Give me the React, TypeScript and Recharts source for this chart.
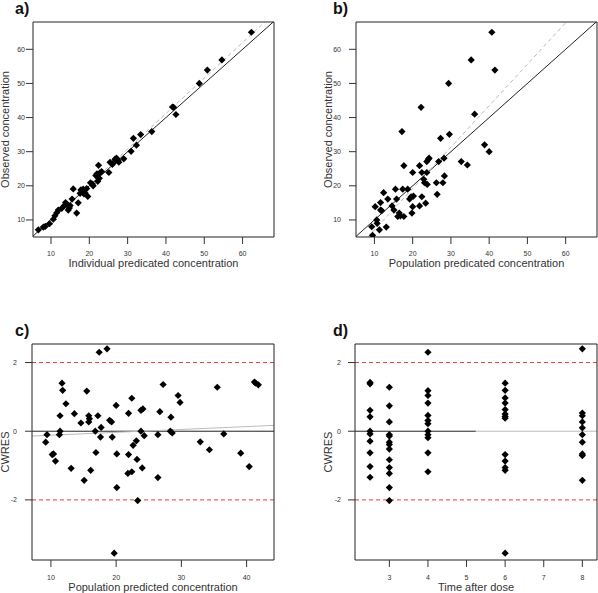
import React from 'react';
import { ScatterChart, Scatter, XAxis, YAxis, ReferenceLine } from 'recharts';

// Panel a: individual predicted vs observed
const aIpred = [6.7, 8.0, 8.5, 9.6, 10.6, 11.0, 11.5, 11.9, 12.8, 13.5, 13.8, 14.0, 14.5, 14.8, 15.0, 15.5, 15.8, 16.7, 17.1, 17.6, 17.8, 18.2, 18.4, 18.6, 18.9, 19.3, 19.6, 20.3, 20.8, 21.0, 21.7, 22.0, 22.2, 22.4, 22.6, 22.8, 23.2, 25.1, 25.4, 26.0, 26.2, 26.7, 27.1, 27.5, 27.7, 29.0, 30.9, 31.5, 32.3, 33.4, 36.3, 41.7, 42.0, 42.6, 48.7, 50.8, 54.6, 62.3];
const aObs = [7.1, 7.9, 8.1, 8.9, 10.2, 11.2, 12.1, 12.9, 13.4, 14.2, 15.1, 14.6, 12.9, 13.5, 14.2, 16.1, 19.1, 12.0, 15.0, 17.8, 18.8, 18.3, 19.0, 17.6, 17.9, 19.2, 16.9, 20.9, 20.5, 20.0, 23.0, 23.5, 21.3, 26.0, 22.2, 23.8, 24.2, 23.9, 26.9, 26.3, 26.6, 27.8, 28.1, 27.5, 26.9, 27.9, 30.1, 33.9, 31.9, 35.0, 35.9, 43.1, 43.0, 40.9, 50.0, 53.9, 56.9, 65.0];

// Panel b: population predicted vs observed
const bPred = [9.3, 9.5, 10.2, 10.6, 10.7, 11.3, 11.6, 11.6, 11.9, 12.4, 13.1, 13.5, 14.6, 15.1, 15.5, 15.8, 16.1, 16.5, 16.8, 17.2, 17.4, 17.7, 17.7, 18.7, 19.2, 19.6, 19.8, 20.0, 20.0, 20.2, 21.8, 21.8, 22.2, 22.4, 22.4, 22.9, 23.1, 23.4, 23.7, 23.7, 23.8, 24.1, 24.3, 26.2, 26.4, 26.8, 27.3, 27.9, 28.2, 28.3, 29.4, 29.6, 32.7, 34.3, 35.3, 36.2, 38.8, 40.0, 40.7, 41.5];
const bObs = [8.0, 5.5, 13.9, 10.0, 9.0, 7.1, 15.1, 12.9, 12.7, 18.0, 7.9, 16.1, 14.1, 12.9, 19.0, 16.1, 11.0, 12.0, 11.2, 35.9, 19.0, 25.9, 11.0, 19.0, 16.1, 16.8, 12.0, 13.9, 23.9, 17.0, 25.9, 14.1, 43.0, 16.8, 23.9, 21.9, 20.9, 14.9, 23.9, 27.1, 20.4, 27.8, 28.1, 20.9, 17.5, 27.1, 33.9, 20.9, 28.1, 22.9, 50.0, 35.1, 27.1, 26.1, 56.9, 41.0, 32.0, 30.0, 65.0, 53.9];

// Panel c: CWRES vs population predicted
const cPred = [9.4, 9.2, 10.2, 10.4, 10.7, 11.4, 11.3, 11.4, 11.7, 11.8, 12.3, 13.1, 13.6, 14.6, 15.1, 15.5, 15.8, 15.8, 15.9, 16.1, 16.8, 16.9, 17.2, 17.4, 17.6, 17.7, 18.6, 19.0, 19.3, 19.4, 19.7, 20.0, 20.1, 20.1, 21.9, 21.9, 21.8, 22.4, 22.4, 22.6, 23.1, 23.2, 23.3, 23.8, 23.8, 24.1, 24.0, 24.3, 26.4, 26.4, 26.7, 27.2, 28.3, 28.4, 28.6, 29.5, 29.8, 32.9, 34.3, 35.5, 36.5, 39.1, 40.4, 41.2, 41.4, 41.8];
const cCwres = [-0.10, -0.32, -0.68, -0.66, -0.87, 0.0, -0.10, 0.45, 1.40, 1.19, 0.80, -1.08, 0.51, 0.24, -1.43, 1.17, 0.45, 0.27, 0.36, -1.14, 0.0, -0.62, 0.45, 2.30, -0.17, 0.11, 2.40, 0.32, 0.27, -0.17, -3.55, 0.75, -0.66, -1.64, 0.52, -0.68, -1.23, -1.18, 0.96, -0.41, -0.28, -0.82, -2.02, 0.0, 0.61, 0.65, -1.07, -0.13, -0.10, -1.35, 0.57, 1.36, 0.0, 0.41, -0.05, 1.04, 0.84, -0.31, -0.54, 1.28, -0.08, -0.64, -1.03, 1.43, 1.40, 1.35];

// Panel d: CWRES vs time after dose
const dTime = [2.5, 2.5, 2.5, 2.5, 2.5, 2.5, 2.5, 2.5, 2.5, 2.5, 3, 3, 3, 3, 3, 3, 3, 3, 3, 3, 3, 3, 3, 4, 4, 4, 4, 4, 4, 4, 4, 4, 4, 4, 4, 6, 6, 6, 6, 6, 6, 6, 6, 6, 6, 6, 6, 6, 8, 8, 8, 8, 8, 8, 8, 8, 8, 8];
const dCwres = [1.42, 1.38, 0.61, 0.42, 0.0, -0.08, -0.29, -0.63, -1.03, -1.34, 1.28, 0.74, 0.27, -0.10, -0.14, -0.32, -0.39, -0.52, -0.83, -1.06, -1.23, -1.64, -2.02, 2.30, 1.18, 1.04, 0.82, 0.46, 0.31, 0.22, 0.0, -0.10, -0.19, -0.63, -1.18, 1.40, 1.19, 0.97, 0.82, 0.63, 0.50, 0.43, 0.38, -0.68, -0.87, -1.06, -1.14, -3.55, 2.40, 0.53, 0.45, 0.27, 0.10, -0.10, -0.32, -0.66, -0.71, -1.43];

const concTicks = [10, 20, 30, 40, 50, 60];
const cXTicks = [10, 20, 30, 40];
const timeTicks = [3, 4, 5, 6, 7, 8];
const cwresTicks = [-2, 0, 2];

const zip = (xs: number[], ys: number[]) => xs.map((x, i) => ({ x, y: ys[i] }));

const FONT = "Arial, 'Liberation Sans', sans-serif";
const TXT = '#333';

const Diamond = (props: any) => {
  const { cx, cy } = props;
  if (cx == null || cy == null || isNaN(cx) || isNaN(cy)) return null;
  const r = 3.6;
  return <polygon points={`${cx},${cy - r} ${cx + r},${cy} ${cx},${cy + r} ${cx - r},${cy}`} fill="#000" />;
};

type PanelProps = {
  left: number; top: number; width: number; height: number;
  margin: { top: number; right: number; bottom: number; left: number };
  yWidth: number; xHeight: number;
  xDomain: [number, number]; yDomain: [number, number];
  xTicks: number[]; yTicks: number[];
  data: { x: number; y: number }[];
  xLabel: string; yLabel: string;
  xLabelOffset: number; yLabelOffset: number;
  yTickMargin: number; xTickMargin: number;
  extras: React.ReactNode[];
  tag: string; tagLeft: number; tagTop: number;
};

function Panel(p: PanelProps) {
  const [x0, x1] = p.xDomain;
  const [y0, y1] = p.yDomain;
  const box = { stroke: '#222', strokeWidth: 1, ifOverflow: 'visible' as const };
  return (
    <div style={{ position: 'absolute', left: p.left, top: p.top, width: p.width, height: p.height }}>
      <ScatterChart width={p.width} height={p.height} margin={p.margin} style={{ fontFamily: FONT }}>
        <XAxis
          type="number" dataKey="x" domain={p.xDomain} ticks={p.xTicks} allowDataOverflow
          height={p.xHeight} axisLine={{ stroke: '#222' }} tickSize={7} tickMargin={p.xTickMargin}
          tickLine={{ stroke: '#333' }}
          tick={{ fontSize: 7, fill: TXT, fontFamily: FONT }}
          label={{ value: p.xLabel, position: 'insideBottom', offset: p.xLabelOffset, style: { fontSize: 11, fill: TXT, fontFamily: FONT } }}
        />
        <YAxis
          type="number" dataKey="y" domain={p.yDomain} ticks={p.yTicks} allowDataOverflow
          width={p.yWidth} axisLine={{ stroke: '#222' }} tickSize={7} tickMargin={p.yTickMargin}
          tickLine={{ stroke: '#333' }}
          tick={{ fontSize: 7, fill: TXT, fontFamily: FONT }}
          label={{ value: p.yLabel, angle: -90, position: 'insideLeft', offset: p.yLabelOffset, style: { fontSize: 11, fill: TXT, fontFamily: FONT, textAnchor: 'middle' } }}
        />
        {p.extras}
        <Scatter data={p.data} shape={Diamond} isAnimationActive={false} />
        <ReferenceLine y={y1} {...box} />
        <ReferenceLine x={x1} {...box} />
      </ScatterChart>
      <div style={{ position: 'absolute', left: p.tagLeft, top: p.tagTop, fontFamily: FONT, fontWeight: 'bold', fontSize: 16, lineHeight: '16px', color: '#111' }}>{p.tag}</div>
    </div>
  );
}

export default function App() {
  const concDomX: [number, number] = [5.3, 68.2];
  const concDomY: [number, number] = [5.0, 68.0];
  const cwDom: [number, number] = [-3.75, 2.54];
  const red = { stroke: '#e0403a', strokeDasharray: '4 3', strokeWidth: 1 };
  return (
    <div style={{ position: 'absolute', left: 0, top: 0, width: 598, height: 593, background: '#fff', overflow: 'hidden' }}>
      <Panel
        left={0} top={0} width={300} height={300}
        margin={{ top: 22, right: 26, bottom: 23, left: 0 }} yWidth={33} xHeight={40}
        xDomain={concDomX} yDomain={concDomY} xTicks={concTicks} yTicks={concTicks}
        data={zip(aIpred, aObs)}
        xLabel="Individual predicated concentration" yLabel="Observed concentration"
        xLabelOffset={10} yLabelOffset={5} yTickMargin={1} xTickMargin={7}
        tag="a)" tagLeft={15} tagTop={1}
        extras={[
          <ReferenceLine key="id" segment={[{ x: 5.3, y: 5.3 }, { x: 68, y: 68 }]} stroke="#222" strokeWidth={1} />,
          <ReferenceLine key="reg" segment={[{ x: 5.3, y: 5.1 }, { x: 65.8, y: 68 }]} stroke="#bbb" strokeDasharray="4 3" strokeWidth={1} />,
        ]}
      />
      <Panel
        left={298} top={0} width={300} height={300}
        margin={{ top: 22, right: 1, bottom: 23, left: 0 }} yWidth={58} xHeight={40}
        xDomain={[5.18, 68.2]} yDomain={concDomY} xTicks={concTicks} yTicks={concTicks}
        data={zip(bPred, bObs)}
        xLabel="Population predicated concentration" yLabel="Observed concentration"
        xLabelOffset={10} yLabelOffset={30} yTickMargin={8} xTickMargin={7}
        tag="b)" tagLeft={35} tagTop={1}
        extras={[
          <ReferenceLine key="id" segment={[{ x: 5.2, y: 5.2 }, { x: 68, y: 68 }]} stroke="#222" strokeWidth={1} />,
          <ReferenceLine key="reg" segment={[{ x: 8.3, y: 5.0 }, { x: 60.2, y: 68 }]} stroke="#bbb" strokeDasharray="4 3" strokeWidth={1} />,
        ]}
      />
      <Panel
        left={0} top={300} width={300} height={300}
        margin={{ top: 44, right: 26, bottom: 7, left: 0 }} yWidth={32} xHeight={33}
        xDomain={[7.1, 44.2]} yDomain={cwDom} xTicks={cXTicks} yTicks={cwresTicks}
        data={zip(cPred, cCwres)}
        xLabel="Population predicted concentration" yLabel="CWRES"
        xLabelOffset={2} yLabelOffset={5} yTickMargin={8} xTickMargin={8}
        tag="c)" tagLeft={15} tagTop={23}
        extras={[
          <ReferenceLine key="r1" y={2} {...red} />,
          <ReferenceLine key="r2" y={-2} {...red} />,
          <ReferenceLine key="z" y={0} stroke="#222" strokeWidth={1} />,
          <ReferenceLine key="reg" segment={[{ x: 7.1, y: -0.14 }, { x: 44.2, y: 0.17 }]} stroke="#bbb" strokeWidth={1} />,
        ]}
      />
      <Panel
        left={298} top={300} width={300} height={300}
        margin={{ top: 44, right: 1, bottom: 7, left: 0 }} yWidth={57} xHeight={33}
        xDomain={[2.11, 8.38]} yDomain={cwDom} xTicks={timeTicks} yTicks={cwresTicks}
        data={zip(dTime, dCwres)}
        xLabel="Time after dose" yLabel="CWRES"
        xLabelOffset={2} yLabelOffset={30} yTickMargin={7} xTickMargin={8}
        tag="d)" tagLeft={35} tagTop={23}
        extras={[
          <ReferenceLine key="r1" y={2} {...red} />,
          <ReferenceLine key="r2" y={-2} {...red} />,
          <ReferenceLine key="zg" segment={[{ x: 5.24, y: 0 }, { x: 8.38, y: 0 }]} stroke="#bbb" strokeWidth={1} />,
          <ReferenceLine key="zb" segment={[{ x: 2.11, y: 0 }, { x: 5.24, y: 0 }]} stroke="#222" strokeWidth={1} />,
        ]}
      />
    </div>
  );
}
